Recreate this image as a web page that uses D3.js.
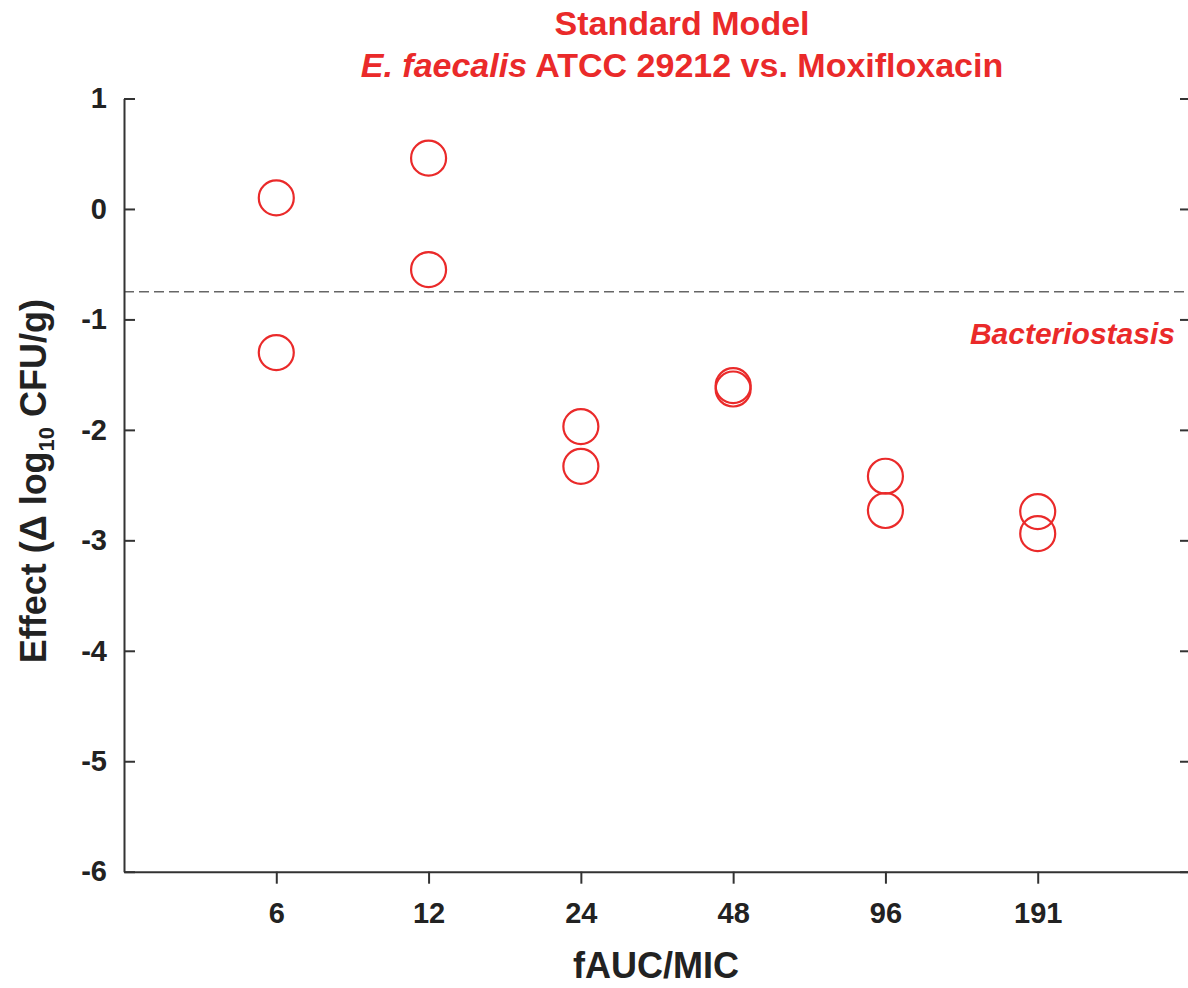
<!DOCTYPE html>
<html>

<head>
    <meta charset="utf-8">
    <script src="https://d3js.org/d3.v7.min.js"></script>
    <style>
        body { margin: 0; background: #fff; }
        text { font-family: "Liberation Sans", Arial, sans-serif; font-weight: bold; }
    </style>
</head>
<body>
    <script>
        // fAUC/MIC groups and the two replicate effects for each
        let categories = ["6", "12", "24", "48", "96", "191"];
        let effectUpper = [0.10, 0.46, -1.97, -1.60, -2.42, -2.74];
        let effectLower = [-1.30, -0.55, -2.33, -1.63, -2.73, -2.94];
        let yTicks = [1, 0, -1, -2, -3, -4, -5, -6];
        let stasisLevel = -0.75;

        let width = 1188,
            height = 988;

        let red = "#ea2a2a",
            ink = "#222";

        let svg = d3.select("body").append("svg")
            .attr("width", width)
            .attr("height", height)
            .style("background", "#fff");

        let x = d3.scalePoint()
            .domain(categories)
            .range([124, 1190])
            .padding(1);

        let y = d3.scaleLinear()
            .domain([-6, 1])
            .range([871.7, 98.5]);

        // points as a flat list
        let points = [];
        categories.forEach(function(c, i) {
            points.push({ cat: c, v: effectUpper[i] });
            points.push({ cat: c, v: effectLower[i] });
        });

        // bacteriostasis reference line
        svg.append("line")
            .attr("x1", x.range()[0])
            .attr("x2", x.range()[1])
            .attr("y1", y(stasisLevel))
            .attr("y2", y(stasisLevel))
            .attr("stroke", "#666")
            .attr("stroke-width", 1.4)
            .attr("stroke-dasharray", "10,5");

        svg.append("text")
            .attr("x", 1175)
            .attr("y", y(stasisLevel) + 52)
            .attr("text-anchor", "end")
            .attr("fill", red)
            .attr("font-size", 30)
            .attr("font-style", "italic")
            .text("Bacteriostasis");

        // axes
        let xAxis = svg.append("g")
            .attr("transform", "translate(0," + y(-6) + ")")
            .call(d3.axisBottom(x).tickSizeInner(12).tickSizeOuter(0).tickPadding(19));

        let yAxis = svg.append("g")
            .attr("transform", "translate(124,0)")
            .call(d3.axisLeft(y).tickValues(yTicks).tickFormat(d => String(d))
                .tickSizeInner(-11).tickSizeOuter(0).tickPadding(17));

        let yRight = svg.append("g")
            .attr("transform", "translate(1189,0)")
            .call(d3.axisRight(y).tickValues(yTicks).tickFormat("")
                .tickSizeInner(-9).tickSizeOuter(0));

        [xAxis, yAxis, yRight].forEach(function(g) {
            g.selectAll("path, line")
                .attr("stroke", "#333")
                .attr("stroke-width", 2);
            g.selectAll("text")
                .attr("fill", ink)
                .attr("font-size", 29)
                .attr("font-family", "'Liberation Sans', Arial, sans-serif")
                .attr("font-weight", "bold");
        });

        // data circles
        svg.append("g")
            .selectAll("circle")
            .data(points)
            .join("circle")
                .attr("cx", d => x(d.cat))
                .attr("cy", d => y(d.v))
                .attr("r", 17.5)
                .attr("fill", "none")
                .attr("stroke", red)
                .attr("stroke-width", 2.2);

        // titles
        svg.append("text")
            .attr("x", 682)
            .attr("y", 35)
            .attr("text-anchor", "middle")
            .attr("fill", red)
            .attr("font-size", 34)
            .text("Standard Model");

        let t2 = svg.append("text")
            .attr("x", 682)
            .attr("y", 77)
            .attr("text-anchor", "middle")
            .attr("fill", red)
            .attr("font-size", 34);
        t2.append("tspan").attr("font-style", "italic").text("E. faecalis");
        t2.append("tspan").text(" ATCC 29212 vs. Moxifloxacin");

        svg.append("text")
            .attr("x", (x.range()[0] + 1188) / 2)
            .attr("y", 978)
            .attr("text-anchor", "middle")
            .attr("fill", ink)
            .attr("font-size", 36)
            .text("fAUC/MIC");

        let yl = svg.append("text")
            .attr("transform", "translate(46," + ((y(1) + y(-6)) / 2 - 4) + ") rotate(-90)")
            .attr("text-anchor", "middle")
            .attr("fill", ink)
            .attr("font-size", 36);
        yl.append("tspan").text("Effect (\u0394 log");
        yl.append("tspan").attr("font-size", 22).attr("dy", 8).text("10");
        yl.append("tspan").attr("dy", -8).text(" CFU/g)");
    </script>
</body>
</html>
